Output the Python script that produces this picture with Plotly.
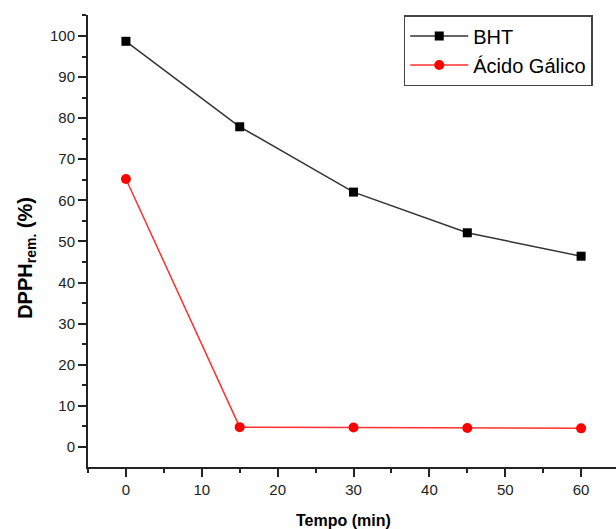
import plotly.graph_objects as go

tempo = [0, 15, 30, 45, 60]
bht = [98.7, 77.9, 62.0, 52.1, 46.4]
acido_galico = [65.2, 4.8, 4.7, 4.6, 4.5]

x_ticks = [0, 10, 20, 30, 40, 50, 60]
y_ticks = [0, 10, 20, 30, 40, 50, 60, 70, 80, 90, 100]

fig = go.Figure()
fig.add_trace(go.Scatter(
    x=tempo, y=bht, name="BHT", mode="lines+markers",
    line=dict(color="#333333", width=1.5),
    marker=dict(symbol="square", size=9, color="black"),
))
fig.add_trace(go.Scatter(
    x=tempo, y=acido_galico, name="Ácido Gálico", mode="lines+markers",
    line=dict(color="#ff3030", width=1.5),
    marker=dict(symbol="circle", size=10, color="#ff0000"),
))

axis_common = dict(
    showgrid=False, zeroline=False, showline=True, linecolor="#222222", linewidth=2,
    ticks="outside", ticklen=8, tickwidth=2, tickcolor="#222222",
    tickfont=dict(family="Liberation Sans, Arial", size=15, color="#222222"),
    minor=dict(ticks="outside", ticklen=4, tickwidth=2, tickcolor="#222222"),
)

fig.update_layout(
    width=616, height=529,
    margin=dict(l=88, r=0, t=15, b=62),
    paper_bgcolor="white", plot_bgcolor="white",
    font=dict(family="Liberation Sans, Arial", color="black"),
    xaxis=dict(
        range=[-5, 64.6], tickvals=x_ticks, ticktext=[str(v) for v in x_ticks],
        minor_dtick=5, minor_tick0=0,
        **axis_common,
    ),
    yaxis=dict(
        range=[-4.9, 105.1], tickvals=y_ticks, ticktext=[str(v) for v in y_ticks],
        minor_dtick=5, minor_tick0=0,
        **axis_common,
    ),
    legend=dict(
        x=0.598, y=1.0, xanchor="left", yanchor="top",
        bordercolor="#444444", borderwidth=1.5, bgcolor="white",
        font=dict(family="Liberation Sans, Arial", size=20, color="black"),
        itemwidth=58, tracegroupgap=0,
    ),
    showlegend=True,
    annotations=[
        dict(text="<b>Tempo (min)</b>", xref="paper", yref="paper",
             x=0.483, y=-0.1173, xanchor="center", yanchor="middle",
             showarrow=False, font=dict(size=16, color="black")),
        dict(text="<b>DPPH<sub>rem.</sub> (%)</b>", xref="paper", yref="paper",
             x=-0.118, y=0.462, xanchor="center", yanchor="middle", textangle=-90,
             showarrow=False, font=dict(size=20, color="black")),
    ],
)

fig.write_html("out.html")
